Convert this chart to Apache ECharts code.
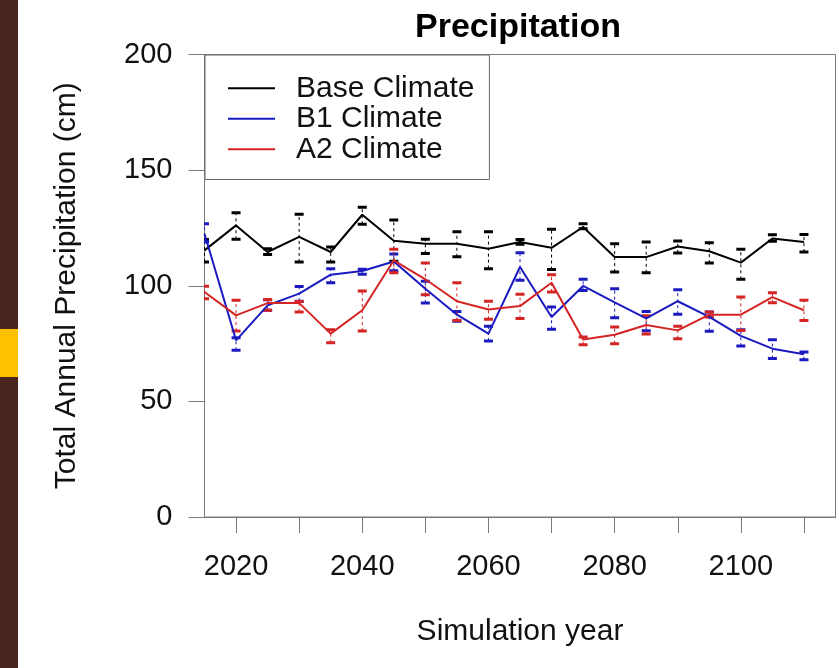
<!DOCTYPE html>
<html>
<head>
<meta charset="utf-8">
<script src="https://cdn.jsdelivr.net/npm/echarts@6/dist/echarts.min.js"></script>
<style>
  html, body { margin: 0; padding: 0; background: #ffffff; }
  #chart { width: 839px; height: 668px; }
</style>
</head>
<body>
<div id="chart"></div>
<script>
// Simulation years (every 5 years)
const years = [2015, 2020, 2025, 2030, 2035, 2040, 2045, 2050, 2055, 2060,
               2065, 2070, 2075, 2080, 2085, 2090, 2095, 2100, 2105, 2110];

// Base climate: mean and range (cm)
const baseMean = [115.3, 126.1, 114.6, 121.1, 114.6, 130.7, 119.5, 118.2, 118.2, 116.0,
                  118.9, 116.4, 125.4, 112.4, 112.4, 117.0, 114.9, 110.0, 120.4, 118.9];
const baseHigh = [120.0, 131.6, 116.0, 130.9, 116.8, 134.0, 128.4, 120.1, 123.3, 123.3,
                  120.0, 124.4, 126.8, 118.2, 118.9, 119.4, 118.6, 115.8, 122.1, 122.2];
const baseLow  = [110.3, 120.1, 113.5, 110.3, 110.3, 126.6, 110.6, 114.0, 112.5, 107.4,
                  117.9, 107.0, 124.6, 105.9, 105.6, 114.2, 109.8, 102.8, 119.2, 114.6];

// B1 climate
const b1Mean = [122.5, 76.4, 91.5, 96.6, 104.8, 106.4, 110.5, 98.7, 87.5, 79.3,
                108.1, 86.5, 99.9, 92.8, 85.9, 93.3, 86.5, 78.3, 72.8, 70.4];
const b1High = [126.8, 77.5, 94.0, 99.7, 107.4, 107.1, 113.7, 101.9, 88.9, 82.5,
                114.3, 90.8, 102.8, 98.7, 88.9, 98.3, 88.6, 81.0, 76.7, 71.4];
const b1Low  = [118.9, 72.1, 89.4, 93.3, 101.3, 105.0, 106.5, 92.5, 84.6, 76.1,
                102.4, 81.2, 98.0, 86.2, 80.5, 87.7, 80.3, 73.9, 68.5, 68.0];

// A2 climate
const a2Mean = [97.3, 87.2, 92.5, 92.5, 79.3, 89.4, 111.0, 102.8, 93.3, 89.7,
                91.2, 101.3, 76.8, 78.8, 83.0, 80.7, 87.5, 87.5, 95.1, 89.4];
const a2High = [99.8, 93.7, 94.1, 93.2, 81.0, 97.7, 115.8, 109.8, 101.3, 93.3,
                96.3, 104.8, 77.8, 82.2, 87.0, 82.5, 88.6, 95.1, 97.0, 93.7];
const a2Low  = [94.4, 80.4, 89.4, 88.7, 75.4, 80.4, 105.6, 96.1, 85.0, 85.5,
                85.8, 97.3, 74.5, 74.9, 79.1, 77.1, 86.5, 80.7, 92.7, 85.0];

// Axis ticks and labels
const xTicks  = [2020, 2030, 2040, 2050, 2060, 2070, 2080, 2090, 2100, 2110];
const xLabels = [2020, 2040, 2060, 2080, 2100];

const FONT = '"Liberation Sans", Arial, Helvetica, sans-serif';
const AXIS_GRAY = '#7a7a7a';
const COLORS = { base: '#000000', b1: '#1a1ac0', a2: '#d42424' };

function pairs(values) {
  return years.map((y, i) => [y, values[i]]);
}

function meanLine(name, color, values) {
  return {
    name: name,
    type: 'line',
    data: pairs(values),
    symbol: 'none',
    z: 3,
    color: color,
    lineStyle: { color: color, width: 2 },
    emphasis: { disabled: true }
  };
}

// Dashed range line with short heavy caps at each end
function rangeBars(name, color, low, high) {
  return {
    name: name,
    type: 'custom',
    clip: true,
    z: 2,
    data: years.map((y, i) => [y, low[i], high[i]]),
    encode: { x: 0, y: [1, 2] },
    renderItem: function (params, api) {
      const x = api.value(0);
      const lo = api.coord([x, api.value(1)]);
      const hi = api.coord([x, api.value(2)]);
      const hw = 4.5;
      return {
        type: 'group',
        children: [
          { type: 'line', shape: { x1: lo[0], y1: lo[1], x2: hi[0], y2: hi[1] },
            style: { stroke: color, lineWidth: 1, lineDash: [3, 3] } },
          { type: 'line', shape: { x1: hi[0] - hw, y1: hi[1], x2: hi[0] + hw, y2: hi[1] },
            style: { stroke: color, lineWidth: 3 } },
          { type: 'line', shape: { x1: lo[0] - hw, y1: lo[1], x2: lo[0] + hw, y2: lo[1] },
            style: { stroke: color, lineWidth: 3 } }
        ]
      };
    }
  };
}

const chart = echarts.init(document.getElementById('chart'), null, { renderer: 'canvas' });

chart.setOption({
  animation: false,
  backgroundColor: '#ffffff',
  textStyle: { fontFamily: FONT },
  title: {
    text: 'Precipitation',
    left: 415,
    top: 11,
    padding: 0,
    textStyle: { fontFamily: FONT, fontSize: 34, fontWeight: 'bold', color: '#000' }
  },
  graphic: [
    { type: 'rect', left: 0, top: 0, shape: { width: 18, height: 668 },
      style: { fill: '#4a251d' }, silent: true },
    { type: 'rect', left: 0, top: 329, shape: { width: 18, height: 48 },
      style: { fill: '#ffc000' }, silent: true }
  ],
  legend: {
    orient: 'vertical',
    left: 205,
    top: 55,
    data: ['Base Climate', 'B1 Climate', 'A2 Climate'],
    icon: 'rect',
    itemWidth: 47,
    itemHeight: 2,
    itemGap: 0,
    padding: [18, 15, 15, 23],
    borderColor: '#666',
    borderWidth: 1,
    borderRadius: 0,
    backgroundColor: '#ffffff',
    selectedMode: false,
    textStyle: { fontFamily: FONT, fontSize: 30, color: '#111', lineHeight: 30.5, padding: [0, 0, 0, 16] }
  },
  grid: {
    left: 204.5,
    right: 3.5,
    top: 54.5,
    bottom: 151,
    show: true,
    borderColor: AXIS_GRAY,
    borderWidth: 1,
    backgroundColor: 'transparent',
    containLabel: false
  },
  xAxis: {
    type: 'value',
    min: 2015,
    max: 2115,
    name: 'Simulation year',
    nameLocation: 'middle',
    nameGap: 100,
    nameTextStyle: { fontFamily: FONT, fontSize: 30, color: '#111' },
    axisLine: { show: true, lineStyle: { color: AXIS_GRAY, width: 1 } },
    axisTick: { show: true, inside: false, length: 16, customValues: xTicks,
                lineStyle: { color: AXIS_GRAY, width: 1 } },
    axisLabel: { customValues: xLabels, margin: 35, fontFamily: FONT, fontSize: 29, color: '#111',
                 formatter: function (v) { return String(v); } },
    splitLine: { show: false }
  },
  yAxis: {
    type: 'value',
    min: 0,
    max: 200,
    interval: 50,
    name: 'Total Annual Precipitation (cm)',
    nameLocation: 'middle',
    nameGap: 123,
    nameTextStyle: { fontFamily: FONT, fontSize: 30, color: '#111' },
    axisLine: { show: true, lineStyle: { color: AXIS_GRAY, width: 1 } },
    axisTick: { show: true, inside: false, length: 16, lineStyle: { color: AXIS_GRAY, width: 1 } },
    axisLabel: { margin: 32, fontFamily: FONT, fontSize: 29, color: '#111' },
    splitLine: { show: false }
  },
  series: [
    rangeBars('Base range', COLORS.base, baseLow, baseHigh),
    rangeBars('B1 range', COLORS.b1, b1Low, b1High),
    rangeBars('A2 range', COLORS.a2, a2Low, a2High),
    meanLine('Base Climate', COLORS.base, baseMean),
    meanLine('B1 Climate', COLORS.b1, b1Mean),
    meanLine('A2 Climate', COLORS.a2, a2Mean)
  ]
});
</script>
</body>
</html>
